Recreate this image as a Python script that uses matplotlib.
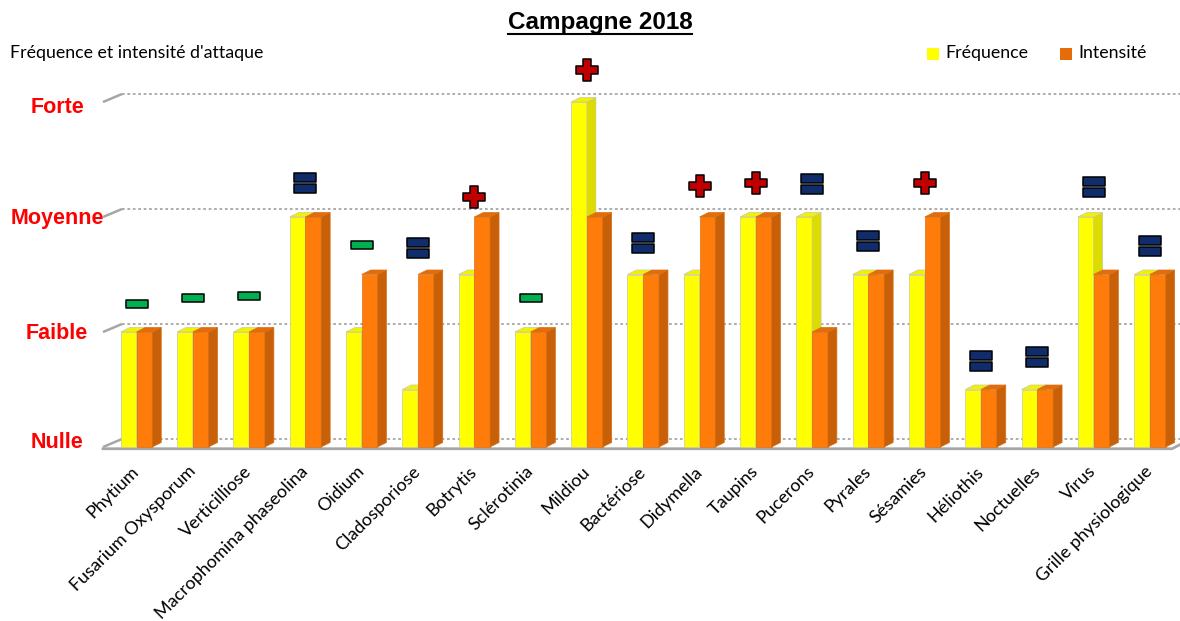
import matplotlib
matplotlib.use('Agg')
import matplotlib.pyplot as plt
import numpy as np
from matplotlib.patches import Polygon, Rectangle
from matplotlib.path import Path

categories = ["Phytium", "Fusarium Oxysporum", "Verticilliose", "Macrophomina phaseolina",
              "Oidium", "Cladosporiose", "Botrytis", "Sclérotinia", "Mildiou", "Bactériose",
              "Didymella", "Taupins", "Pucerons", "Pyrales", "Sésamies", "Héliothis",
              "Noctuelles", "Virus", "Grille physiologique"]
frequence = [1, 1, 1, 2, 1, 0.5, 1.5, 1, 3, 1.5, 1.5, 2, 2, 1.5, 1.5, 0.5, 0.5, 2, 1.5]
intensite = [1, 1, 1, 2, 1.5, 1.5, 2, 1, 2, 1.5, 2, 2, 1, 1.5, 2, 0.5, 0.5, 1.5, 1.5]
# tendance : "-" baisse, "=" stable, "+" hausse
tendance = ["-", "-", "-", "=", "-", "=", "+", "-", "+", "=", "+", "+", "=", "=", "+", "=", "=", "=", "="]
tendance_y = [1.24, 1.30, 1.31, 2.30, 1.76, 1.73, 2.17, 1.30, 3.28, 1.77,
              2.27, 2.30, 2.29, 1.79, 2.30, 0.75, 0.78, 2.26, 1.75]
niveaux = ["Nulle", "Faible", "Moyenne", "Forte"]

W, H = 1180, 621
fig = plt.figure(figsize=(W / 100, H / 100), dpi=100)
ax = fig.add_axes([100 / W, (H - 455) / H, 1080 / W, 400 / H])

# pixel scale: 56.3 px per category, 115 px per level
px_x, px_y = 56.3, 115.0
ax.set_xlim((100 - 136.5) / px_x, (1180 - 136.5) / px_x)
ax.set_ylim(-8 / px_y, 392 / px_y)
for s in ax.spines.values():
    s.set_visible(False)

x = np.arange(len(categories))
w = 0.28
dx, dy = 9 / px_x, 4.5 / px_y      # bar depth
dxb, dyb = 19 / px_x, 8 / px_y     # wall depth
xf0 = (103 - 136.5) / px_x
xr = (1172 - 136.5) / px_x
grey = '#A6A6A6'

# back wall grid + left ticks
for k in range(4):
    ax.plot([xf0 + dxb, xr + dxb], [k + dyb] * 2, color=grey, lw=1.3,
            ls=(0, (1.5, 1.5)), zorder=1)
    ax.plot([xf0, xf0 + dxb], [k, k + dyb], color=grey, lw=1.8, zorder=1,
            solid_capstyle='butt')
# floor
ax.plot([xf0, xr, xr + dxb], [-0.015, -0.015, dyb], color=grey, lw=2, zorder=2)


def bars3d(x0, vals, front, side, top, edge, z):
    ax.bar(x0, vals, w, align='edge', color=front, edgecolor=edge, linewidth=0.5, zorder=z)
    for xi, h in zip(x0, vals):
        x1 = xi + w
        ax.add_patch(Polygon([(x1, 0), (x1 + dx, dy), (x1 + dx, h + dy), (x1, h)],
                             closed=True, facecolor=side, edgecolor=edge, lw=0.5, zorder=z))
        ax.add_patch(Polygon([(xi, h), (x1, h), (x1 + dx, h + dy), (xi + dx, h + dy)],
                             closed=True, facecolor=top, edgecolor=edge, lw=0.5, zorder=z))


bars3d(x - w, frequence, '#FFFF00', '#DCDC00', '#F2F200', '#C8C8A0', 3)
bars3d(x, intensite, '#FF7C0A', '#C8600A', '#E46C0A', '#D87010', 4)

# tendance markers
minus_path = Path([(-1, -0.35), (1, -0.35), (1, 0.35), (-1, 0.35), (-1, -0.35)],
                  [Path.MOVETO, Path.LINETO, Path.LINETO, Path.LINETO, Path.CLOSEPOLY])
eq_v = [(-1, 0.08), (1, 0.08), (1, 0.86), (-1, 0.86), (-1, 0.08),
        (-1, -0.86), (1, -0.86), (1, -0.08), (-1, -0.08), (-1, -0.86)]
eq_c = [Path.MOVETO, Path.LINETO, Path.LINETO, Path.LINETO, Path.CLOSEPOLY] * 2
equals_path = Path(eq_v, eq_c)
t = 0.35
plus_v = [(-t, 1), (t, 1), (t, t), (1, t), (1, -t), (t, -t), (t, -1), (-t, -1),
          (-t, -t), (-1, -t), (-1, t), (-t, t), (-t, 1)]
plus_path = Path(plus_v, [Path.MOVETO] + [Path.LINETO] * 11 + [Path.CLOSEPOLY])

styles = {"-": (minus_path, '#00B050', 15.5),
          "=": (equals_path, '#102C6B', 16.5),
          "+": (plus_path, '#C00000', 16.5)}
for xi, tnd, ty in zip(x, tendance, tendance_y):
    mk, col, ms = styles[tnd]
    ax.plot(xi, ty, marker=mk, ms=ms, mfc=col, mec='black', mew=1.1,
            ls='none', zorder=6, clip_on=False)

# axes labels
ax.set_yticks([])
ax.set_xticks(x)
ax.set_xticklabels(categories, rotation=45, ha='right', va='center',
                   rotation_mode='anchor', fontsize=13, family='Lato')
ax.tick_params(axis='x', length=0, pad=10)

ytr = ax.get_yaxis_transform()
label_y = [0.043, 0.983, 1.983, 2.948]
for ly, lab in zip(label_y, niveaux):
    ax.text((57 - 100) / 1080, ly, lab, transform=ytr, ha='center', va='center',
            color='#FF0000', fontsize=15.5, fontweight='bold', family='Liberation Sans')

# title, subtitle, legend
title = fig.text(600 / W, 1 - 23 / H, "Campagne 2018", ha='center', va='center',
                 fontsize=17.5, fontweight='bold', family='Liberation Sans')
fig.text(10 / W, 1 - 53 / H, "Fréquence et intensité d'attaque", ha='left', va='center',
         fontsize=12.8, family='Lato')
fig.patches.append(Rectangle((927 / W, 1 - 60 / H), 12 / W, 12 / H, transform=fig.transFigure,
                             facecolor='#FFFF00', edgecolor='none'))
fig.text(945 / W, 1 - 53 / H, "Fréquence", ha='left', va='center', fontsize=12.8, family='Lato')
fig.patches.append(Rectangle((1060 / W, 1 - 60 / H), 12 / W, 12 / H, transform=fig.transFigure,
                             facecolor='#E46C0A', edgecolor='none'))
fig.text(1078 / W, 1 - 53 / H, "Intensité", ha='left', va='center', fontsize=12.8, family='Lato')

# underline the title
fig.canvas.draw()
bb = title.get_window_extent().transformed(fig.transFigure.inverted())
fig.add_artist(plt.Line2D([bb.x0, bb.x1], [bb.y0 + 1 / H, bb.y0 + 1 / H],
                          transform=fig.transFigure, color='black', lw=1.5))

fig.savefig('out.png', dpi=100)
